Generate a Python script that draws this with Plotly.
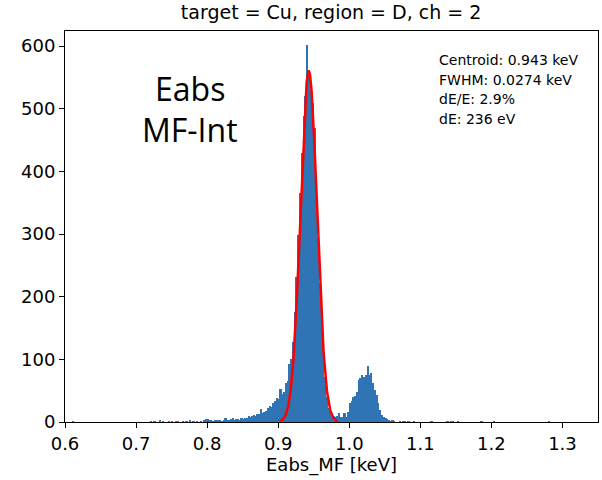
import plotly.graph_objects as go
import math

# ---- data ----
bin_start = 0.60          # keV
bin_width = 0.0025        # keV
n_bins = 300

# sparse counts: bin index -> count (all other bins are 0)
low_counts = {4: 1, 48: 1, 50: 1, 53: 2, 55: 1, 58: 1, 60: 1, 62: 1, 63: 1, 66: 1,
              68: 1, 70: 2, 72: 1, 74: 1, 76: 1, 78: 2, 79: 4, 80: 4, 81: 2, 82: 2,
              83: 1, 84: 2, 85: 3, 86: 2, 87: 3, 88: 1, 89: 3, 90: 6, 91: 3, 92: 2,
              93: 5, 94: 6, 95: 3, 96: 4, 97: 5, 98: 3, 99: 6}
peak_counts = [4, 7, 6, 9, 8, 9, 11, 10, 12, 13,          # bins 100-109
               20, 14, 16, 18, 22, 25, 24, 30, 34, 38,     # bins 110-119
               36, 52, 44, 48, 62, 66, 92, 100, 128, 175,  # bins 120-129
               232, 298, 365, 430, 488, 520, 601, 558, 530, 509,  # 130-139
               470, 372, 296, 222, 158, 110, 72, 40, 22, 14,      # 140-149
               12, 9, 8, 9, 14, 8, 8, 14, 8, 16,                  # 150-159
               30, 33, 40, 42, 48, 67, 70, 75, 72, 75,            # 160-169
               90, 75, 78, 62, 51, 43, 30, 19, 11, 8,             # 170-179
               6, 4, 2, 1, 2, 1]                                  # 180-185
high_counts = {188: 1, 190: 1, 191: 1, 193: 1, 196: 1, 206: 1, 215: 1, 217: 1,
               218: 1, 221: 1, 234: 1, 241: 1, 272: 1}

# Gaussian fit parameters
centroid = 0.943     # keV
fwhm = 0.0274        # keV
fit_amp = 560.0      # counts

stats_lines = ["Centroid: 0.943 keV", "FWHM: 0.0274 keV", "dE/E: 2.9%", "dE: 236 eV"]
big_label = ["Eabs", "MF-Int"]
title_text = "target = Cu, region = D, ch = 2"
x_label = "Eabs_MF [keV]"
x_ticks = [0.6, 0.7, 0.8, 0.9, 1.0, 1.1, 1.2, 1.3]
y_ticks = [0, 100, 200, 300, 400, 500, 600]

# ---- build histogram ----
counts = [0] * n_bins
for k, v in low_counts.items():
    counts[k] = v
for j, v in enumerate(peak_counts):
    counts[100 + j] = v
for k, v in high_counts.items():
    counts[k] = v
centers = [bin_start + bin_width * (i + 0.5) for i in range(n_bins)]

# ---- fit curve ----
sigma = fwhm / (2 * math.sqrt(2 * math.log(2)))
npts = 200
fx = [centroid - 3.5 * sigma + 7 * sigma * k / (npts - 1) for k in range(npts)]
fy = [fit_amp * math.exp(-0.5 * ((x - centroid) / sigma) ** 2) for x in fx]

fig = go.Figure()
fig.add_trace(go.Bar(x=centers, y=counts, width=bin_width,
                     marker=dict(color="#2f75b5", line=dict(width=0)),
                     showlegend=False))
fig.add_trace(go.Scatter(x=fx, y=fy, mode="lines",
                         line=dict(color="red", width=2.5), showlegend=False))

fig.update_layout(
    width=602, height=480,
    margin=dict(l=65, r=4, t=31, b=58),
    paper_bgcolor="white", plot_bgcolor="white",
    bargap=0,
    font=dict(family="DejaVu Sans", color="black"),
    title=dict(text=title_text, x=0.55, xanchor="center", y=0.975, yanchor="middle",
               font=dict(size=19, family="DejaVu Sans")),
)
fig.update_xaxes(range=[0.6, 1.35], tickvals=x_ticks, ticktext=[f"{t:.1f}" for t in x_ticks],
                 ticks="outside", ticklen=5, tickcolor="black", showline=True,
                 linecolor="black", linewidth=1, mirror=True, showgrid=False, zeroline=False,
                 tickfont=dict(size=18), title=dict(text=x_label, font=dict(size=18), standoff=4))
fig.update_yaxes(range=[0, 624], tickvals=y_ticks, ticks="outside", ticklen=5,
                 tickcolor="black", showline=True, linecolor="black", linewidth=1,
                 mirror=True, showgrid=False, zeroline=False, tickfont=dict(size=18))

for txt, yy in zip(big_label, [0.854, 0.747]):
    fig.add_annotation(text=txt, xref="paper", yref="paper", x=0.2345, y=yy,
                       xanchor="center", yanchor="middle", showarrow=False,
                       font=dict(family="Open Sans", size=32, color="black"))
for txt, yy in zip(stats_lines, [0.926, 0.875, 0.826, 0.775]):
    fig.add_annotation(text=txt, xref="paper", yref="paper", x=0.697, y=yy,
                       xanchor="left", yanchor="middle", showarrow=False,
                       font=dict(family="DejaVu Sans", size=14, color="black"))

fig.write_html("out.html")
